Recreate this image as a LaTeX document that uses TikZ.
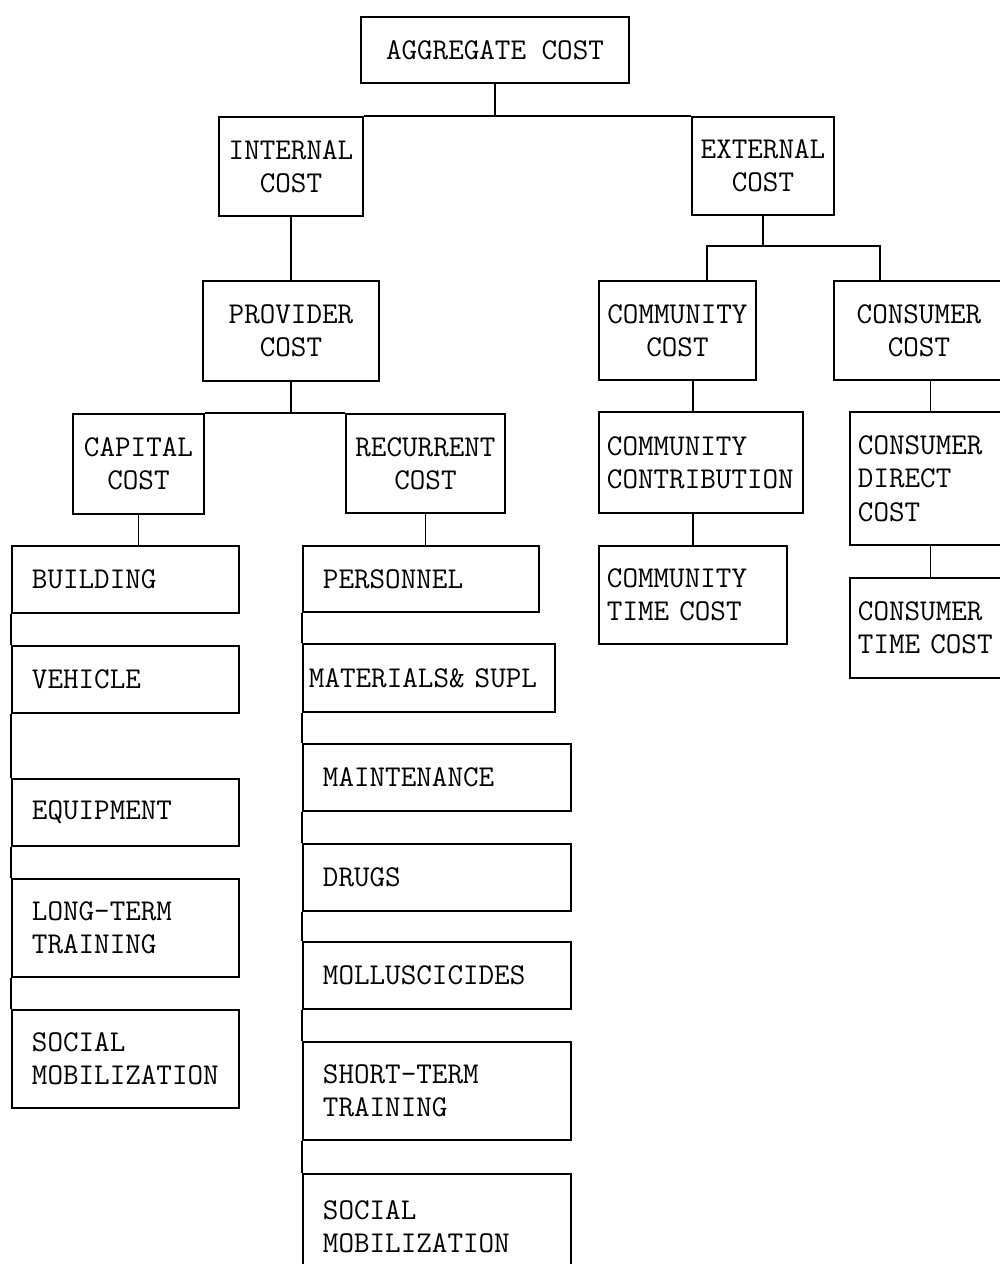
\documentclass[tikz,border=0pt]{standalone}
\usepackage{fontspec}
\newcommand{\costfont}{\fontsize{17.2}{19}\selectfont\ttfamily}
\tikzset{
  box/.style={draw,line width=1.1pt,font=\costfont,inner ysep=0pt},
  cbox/.style={box,align=center,anchor=north west,inner xsep=0pt},
  leaf/.style={box,align=left,anchor=north west,inner xsep=4mm},
  link/.style={line width=1.1pt},
}

\begin{document}
\begin{tikzpicture}[x=0.2mm,y=-0.2mm]
  \useasboundingbox (0,0) rectangle (1000,1264);
  % top of the tree
  \node[cbox,minimum width=53.6mm,minimum height=13.2mm] (agg) at (360,16) {AGGREGATE COST};
  \node[cbox,minimum width=28.8mm,minimum height=19.8mm] (int) at (218,116) {INTERNAL\\COST};
  \node[cbox,minimum width=28.4mm,minimum height=19.6mm] (ext) at (691,116) {EXTERNAL\\COST};
  \node[cbox,minimum width=35.2mm,minimum height=20mm] (prov) at (202,280) {PROVIDER\\COST};
  \node[cbox,minimum width=26.2mm,minimum height=20mm] (cap) at (72,413) {CAPITAL\\COST};
  \node[cbox,minimum width=31.8mm,minimum height=19.8mm] (rec) at (345,413) {RECURRENT\\COST};
  \node[cbox,minimum width=31.4mm,minimum height=19.8mm] (comm) at (598,280) {COMMUNITY\\COST};
  \node[cbox,minimum width=34mm,minimum height=19.8mm] (cons) at (833,280) {CONSUMER\\COST};

  % capital items
  \node[leaf,text width=37.4mm,minimum height=13.4mm] (build) at (11,545) {BUILDING};
  \node[leaf,text width=37.4mm,minimum height=13.4mm] (veh) at (11,645) {VEHICLE};
  \node[leaf,text width=37.4mm,minimum height=13.4mm] (equip) at (11,778) {EQUIPMENT};
  \node[leaf,text width=37.4mm,minimum height=19.6mm] (ltt) at (11,878) {LONG-TERM\\TRAINING};
  \node[leaf,text width=37.4mm,minimum height=19.6mm] (smob1) at (11,1009) {SOCIAL\\MOBILIZATION};

  % recurrent items
  \node[leaf,text width=39.2mm,minimum height=13.2mm] (pers) at (302,545) {PERSONNEL};
  \node[leaf,inner xsep=1.2mm,text width=48mm,minimum height=13.6mm] (mat) at (302,643) {MATERIALS\& SUPL};
  \node[leaf,text width=45.6mm,minimum height=13.4mm] (maint) at (302,743) {MAINTENANCE};
  \node[leaf,text width=45.6mm,minimum height=13.4mm] (drugs) at (302,843) {DRUGS};
  \node[leaf,text width=45.6mm,minimum height=13.4mm] (moll) at (302,941) {MOLLUSCICIDES};
  \node[leaf,text width=45.6mm,minimum height=19.6mm] (stt) at (302,1041) {SHORT-TERM\\TRAINING};
  \node[leaf,text width=45.6mm,minimum height=21mm] (smob2) at (302,1173) {SOCIAL\\MOBILIZATION};

  % external items
  \node[leaf,inner xsep=1.6mm,text width=37.6mm,minimum height=20.2mm] (ccontr) at (598,411) {COMMUNITY\\CONTRIBUTION};
  \node[leaf,inner xsep=1.6mm,text width=34.4mm,minimum height=19.6mm] (ctime) at (598,545) {COMMUNITY\\TIME COST};
  \node[leaf,inner xsep=1.6mm,text width=29mm,minimum height=26.6mm] (cdirect) at (849,411) {CONSUMER\\DIRECT\\COST};
  \node[leaf,inner xsep=1.6mm,text width=29mm,minimum height=20mm] (cstime) at (849,577) {CONSUMER\\TIME COST};

  % connectors
  \draw[link] (agg.south) -- (agg.south |- int.north);
  \draw[link] (int.north east) -- (ext.north west);
  \draw[link] (int.south) -- (prov.north);
  \draw[link] (prov.south) -- (prov.south |- cap.north);
  \draw[link] (cap.north east) -- (rec.north west);
  \draw[link] (cap.south) -- (cap.south |- build.north);
  \draw[link] (rec.south) -- (rec.south |- pers.north);
  \foreach \a/\b in {build/veh,veh/equip,equip/ltt,ltt/smob1,
                     pers/mat,mat/maint,maint/drugs,drugs/moll,moll/stt,stt/smob2}
    \draw[link] (\a.south west) -- (\b.north west);

  \coordinate (jl) at (707,246);
  \coordinate (jr) at (880,246);
  \draw[link] (ext.south) -- (ext.south |- jl);
  \draw[link] (jl |- comm.north) -- (jl) -- (jr) -- (jr |- cons.north);
  \draw[link] (ctime.north |- comm.south) -- (ctime.north |- ccontr.north);
  \draw[link] (ccontr.south -| ctime.north) -- (ctime.north);
  \draw[link] (cdirect.north |- cons.south) -- (cdirect.north);
  \draw[link] (cdirect.south) -- (cstime.north);
\end{tikzpicture}
\end{document}
